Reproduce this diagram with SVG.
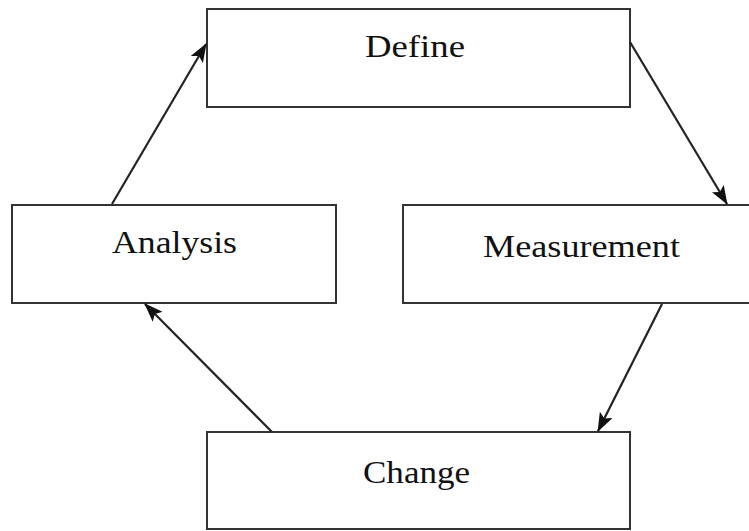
<svg xmlns="http://www.w3.org/2000/svg" width="749" height="531" viewBox="0 0 749 531">
<style>
.box{fill:#fff;stroke:#333;stroke-width:2}
.lbl{font-family:"Liberation Serif","Times New Roman",serif;font-size:32px;fill:#111}
.conn{stroke:#222;stroke-width:2.2;fill:none;marker-end:url(#ah)}
</style>
<defs>
<marker id="ah" markerWidth="19" markerHeight="14" refX="18" refY="7" orient="auto" markerUnits="userSpaceOnUse">
<path d="M0,0 L19,7 L0,14 L4,7 Z" fill="#111"/>
</marker>
</defs>
<rect width="749" height="531" fill="#fff"/>
<g id="define">
<rect class="box" x="207" y="9" width="423" height="98"/>
<text class="lbl" x="365" y="57" textLength="100" lengthAdjust="spacingAndGlyphs">Define</text>
</g>
<g id="measurement">
<rect class="box" x="403" y="205" width="360" height="98"/>
<text class="lbl" x="483" y="257" textLength="197" lengthAdjust="spacingAndGlyphs">Measurement</text>
</g>
<g id="change">
<rect class="box" x="207" y="432" width="423" height="97"/>
<text class="lbl" x="363" y="483" textLength="107" lengthAdjust="spacingAndGlyphs">Change</text>
</g>
<g id="analysis">
<rect class="box" x="12" y="205" width="324" height="98"/>
<text class="lbl" x="112" y="253" textLength="125" lengthAdjust="spacingAndGlyphs">Analysis</text>
</g>
<g id="connectors">
<line class="conn" x1="112" y1="204" x2="206" y2="44"/>
<line class="conn" x1="630" y1="42" x2="727" y2="204"/>
<line class="conn" x1="662" y1="304" x2="598" y2="431"/>
<line class="conn" x1="272" y1="432" x2="145" y2="304"/>
</g>
</svg>
